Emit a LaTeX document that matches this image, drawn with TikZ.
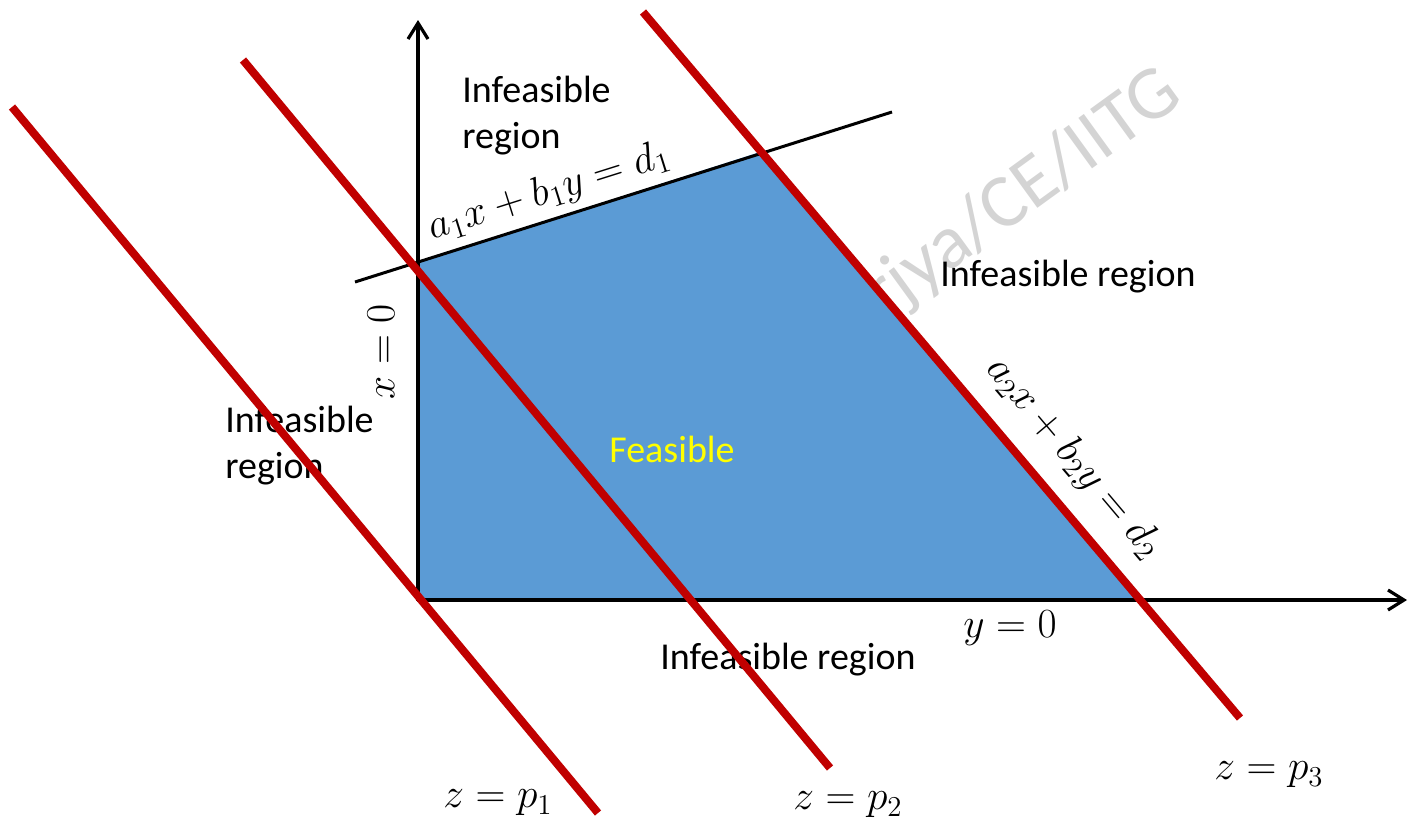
\documentclass[tikz,border=0pt]{standalone}
\usepackage{amsmath}
\usepackage{fontspec}
\setmainfont{Carlito}
\usepackage{tikz}
\usetikzlibrary{arrows.meta}
\definecolor{lpblue}{HTML}{5B9BD5}
\definecolor{lpred}{HTML}{C00000}
\definecolor{lpmark}{HTML}{D4D4D4}
\definecolor{lpyellow}{HTML}{FFFF00}

\begin{document}
\begin{tikzpicture}[x=0.5pt,y=-0.5pt, every node/.style={font=\fontsize{19}{23}\selectfont, inner sep=0pt},
  axis/.style={line width=1.6pt, -{Straight Barb[length=8pt,width=10pt]}},
  zline/.style={lpred, line width=4pt},
  eqn/.style={font=\fontsize{22}{24}\selectfont}]
\useasboundingbox (0,0) rectangle (1408,831);
% watermark, mostly under the region
\node[lpmark, rotate=36, anchor=base west, font=\fontsize{38}{38}\selectfont] (wmark) at (884,320) {rjya/CE/IITG};
% feasible region and constraints
\fill[lpblue] (418,600) -- (418,262) -- (760,152) -- (1140,600) -- cycle;
\draw[line width=1.5pt] (355,282) -- (892,112);
\draw[axis] (418,601) -- (418,20);
\draw[axis] (417,600) -- (1407,600);
% labels
\node[anchor=west, align=left] (topinf) at (462,116) {Infeasible\\region};
\node[anchor=west, align=left] (leftinf) at (225,446) {Infeasible\\region};
\node[anchor=west] (rightinf) at (940,277) {Infeasible region};
\node[anchor=west] (botinf) at (660,660) {Infeasible region};
\node[lpyellow] (feas) at (672,449) {Feasible};
\node[eqn, rotate=17.5] (con1) at (549,192) {$a_1x+b_1y=d_1$};
\node[eqn, rotate=-49.8] (con2) at (1074,458) {$a_2x+b_2y=d_2$};
\node[eqn, rotate=90] (xzero) at (381,352) {$x=0$};
\node[eqn] (yzero) at (1010,628) {$y=0$};
\node[eqn] (zp1) at (498,803) {$z=p_1$};
\node[eqn] (zp2) at (848,805) {$z=p_2$};
\node[eqn] (zp3) at (1269,775) {$z=p_3$};
% objective lines
\foreach \xa/\ya/\xb/\yb in {12/107/598/813, 243/60/830/768, 643/12/1240/718}
  \draw[zline] (\xa,\ya) -- (\xb,\yb);
\end{tikzpicture}
\end{document}
